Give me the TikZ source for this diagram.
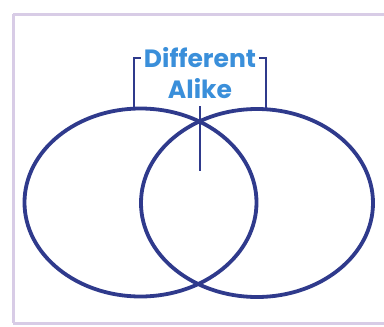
\documentclass[tikz,border=0pt]{standalone}
\usepackage{fontspec}
\setmainfont{Poppins}
\usetikzlibrary{shapes.geometric}
\definecolor{navy}{HTML}{2F3A8C}
\definecolor{sky}{HTML}{3A8FDA}
\definecolor{lav}{HTML}{D8CCE6}
\tikzset{
  venn/.style={draw=navy, line width=3.8pt, ellipse, minimum width=232pt, minimum height=188pt, inner sep=0pt},
  brack/.style={draw=navy, line width=2.4pt},
  lbl/.style={text=sky, font=\bfseries\fontsize{25}{25}\selectfont, inner sep=0pt},
  framestyle/.style={draw=lav, line width=3pt}
}
\begin{document}
\begin{tikzpicture}[x=1pt,y=-1pt]
\useasboundingbox (0,0) rectangle (384,327);
\fill[white] (0,0) rectangle (384,327);
\coordinate (f1) at (384,14);
\coordinate (f2) at (13,14);
\coordinate (f3) at (13,323);
\coordinate (f4) at (384,323);
\draw[framestyle] (f1) -- (f2);
\draw[framestyle] (f2) -- (f3);
\draw[framestyle] (f3) -- (f4);
\node[venn] (L) at (140.5,202.5) {};
\node[venn] (R) at (257,203) {};
\node[lbl] (diff) at (200,58) {Different};
\node[lbl] (alike) at (200,89) {Alike};
\coordinate (bl) at (134,108);
\coordinate (blt) at (141,58);
\coordinate (br) at (266,108);
\coordinate (brt) at (259,58);
\draw[brack] (bl) |- (blt);
\draw[brack] (br) |- (brt);
\coordinate (vt) at (200,106);
\coordinate (vb) at (200,171);
\draw[brack] (vt) -- (vb);
\end{tikzpicture}
\end{document}
